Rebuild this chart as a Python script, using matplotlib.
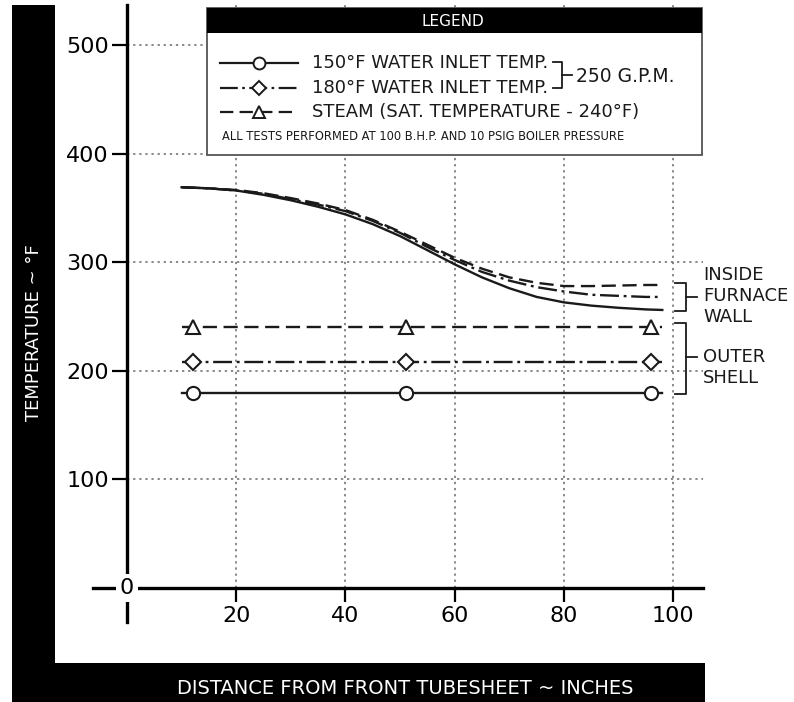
import matplotlib
matplotlib.use('Agg')
import matplotlib.pyplot as plt
from matplotlib.patches import Rectangle

# inside furnace wall temperature along the tube (deg F)
dist = [10, 15, 20, 25, 30, 35, 40, 45, 50, 55, 60, 65, 70, 75, 80, 85, 90, 95, 98]
wall_150 = [369, 368, 366, 362, 357, 351, 344, 335, 324, 311, 298, 286, 276, 268, 263, 260, 258, 256.5, 256]
wall_180 = [369, 368, 366, 363, 358, 353, 347, 338, 327, 314, 302, 291, 283, 277, 273, 270, 269, 268, 268]
wall_steam = [369, 368, 366.5, 363.5, 359, 354, 348, 339, 328, 316, 304, 294, 286, 281, 278, 278, 278.5, 279, 279]

# outer shell temperature (flat along the tube)
shell_span = [10, 98]
shell_marks = [12, 51, 96]
shell_150 = 180
shell_180 = 208
shell_steam = 240

x_ticks = [20, 40, 60, 80, 100]
y_ticks = [100, 200, 300, 400, 500]

legend_rows = ['150°F WATER INLET TEMP.',
               '180°F WATER INLET TEMP.',
               'STEAM (SAT. TEMPERATURE - 240°F)']
legend_note = 'ALL TESTS PERFORMED AT 100 B.H.P. AND 10 PSIG BOILER PRESSURE'

INK = '#1a1a1a'
GRID = '#6a6a6a'

styles = [
    dict(linestyle='-', marker='o', ms=9.5),
    dict(dashes=(8, 2, 1.2, 2), marker='D', ms=8),
    dict(dashes=(6, 2.8), marker='^', ms=10),
]


def draw_chart(ax):
    top = 536.8
    right = 105.45
    ax.set_xlim(-6.22, right)
    ax.set_ylim(-31.3, top)

    # dotted grid
    ax.vlines(x_ticks, 0, top, colors=GRID, linestyles=(0, (1.5, 2.5)), lw=1.1, zorder=1)
    ax.hlines(y_ticks, 0, right, colors=GRID, linestyles=(0, (1.5, 2.5)), lw=1.1, zorder=1)

    # inside furnace wall curves
    for wall, st in zip([wall_150, wall_180, wall_steam], styles):
        line_st = {k: v for k, v in st.items() if k not in ('marker', 'ms')}
        ax.plot(dist, wall, color=INK, lw=1.7, zorder=3, **line_st)

    # outer shell lines with markers
    for val, st in zip([shell_150, shell_180, shell_steam], styles):
        line_st = {k: v for k, v in st.items() if k not in ('marker', 'ms')}
        ax.plot(shell_span, [val, val], color=INK, lw=1.7, zorder=3, **line_st)
        ax.plot(shell_marks, [val] * len(shell_marks), ls='none', marker=st['marker'],
                ms=st['ms'], mfc='white', mec=INK, mew=1.5, zorder=4)

    # axes through the origin
    for side in ['top', 'right']:
        ax.spines[side].set_visible(False)
    ax.spines['left'].set_position(('data', 0))
    ax.spines['bottom'].set_position(('data', 0))
    ax.spines['left'].set_linewidth(2.4)
    ax.spines['bottom'].set_linewidth(2.4)
    ax.spines['left'].set_color('black')
    ax.spines['bottom'].set_color('black')

    ax.set_xticks(x_ticks)
    ax.set_yticks(y_ticks)
    ax.tick_params(axis='y', direction='out', length=11, width=1.6, labelsize=16, pad=2)
    ax.tick_params(axis='x', direction='out', length=10, width=1.6, labelsize=16, pad=3)

    ax.text(0, 0, '0', ha='center', va='center', fontsize=16,
            bbox=dict(fc='white', ec='none', pad=3), zorder=6)


def draw_frame(ov):
    # overlay in pixel coordinates
    ov.set_xlim(0, 794)
    ov.set_ylim(702, 0)
    ov.axis('off')

    ov.add_patch(Rectangle((12, 5), 43, 697, fc='black', ec='none'))
    ov.add_patch(Rectangle((12, 663), 693, 39, fc='black', ec='none'))
    ov.text(34, 333, 'TEMPERATURE ~ °F', rotation=90, ha='center', va='center',
            color='white', fontsize=13)
    ov.text(405, 688, 'DISTANCE FROM FRONT TUBESHEET ~ INCHES', ha='center', va='center',
            color='white', fontsize=14)

    # legend box
    ov.add_patch(Rectangle((207, 8), 495, 147, fc='white', ec='#555555', lw=1.3))
    ov.add_patch(Rectangle((207, 8), 495, 25, fc='black', ec='none'))
    ov.text(453, 21, 'LEGEND', ha='center', va='center', color='white', fontsize=11)

    rows_y = [63, 88, 112]
    for y, label, st in zip(rows_y, legend_rows, styles):
        line_st = {k: v for k, v in st.items() if k not in ('marker', 'ms')}
        ov.plot([220, 298], [y, y], color=INK, lw=1.6, **line_st)
        ov.plot([259], [y], ls='none', marker=st['marker'], ms=st['ms'] * 0.9,
                mfc='white', mec=INK, mew=1.4)
        ov.text(312, y, label, ha='left', va='center', fontsize=13, color=INK)
    ov.text(222, 137, legend_note, ha='left', va='center', fontsize=8.3, color=INK)

    # 250 GPM bracket
    ov.plot([553, 562, 562, 553], [62, 62, 88, 88], color=INK, lw=1.3)
    ov.plot([562, 572], [75, 75], color=INK, lw=1.3)
    ov.text(576, 77, '250 G.P.M.', ha='left', va='center', fontsize=13.5, color=INK)

    # right hand brackets
    ov.plot([675, 686, 686, 675], [283, 283, 311, 311], color=INK, lw=1.3)
    ov.plot([686, 697], [297, 297], color=INK, lw=1.3)
    for y, word in zip([275, 296, 317], ['INSIDE', 'FURNACE', 'WALL']):
        ov.text(703, y, word, ha='left', va='center', fontsize=13, color=INK)
    ov.plot([675, 686, 686, 675], [323, 323, 394, 394], color=INK, lw=1.3)
    ov.plot([686, 697], [357, 357], color=INK, lw=1.3)
    for y, word in zip([357, 378], ['OUTER', 'SHELL']):
        ov.text(703, y, word, ha='left', va='center', fontsize=13, color=INK)


def main():
    fig = plt.figure(figsize=(7.94, 7.02), dpi=100)
    ax = fig.add_axes([93 / 794, 1 - 622 / 702, 610 / 794, 617 / 702])
    ax.set_zorder(1)
    draw_chart(ax)

    ov = fig.add_axes([0, 0, 1, 1])
    ov.set_zorder(2)
    ov.patch.set_alpha(0)
    draw_frame(ov)

    fig.savefig('out.png', dpi=100)


if __name__ == "__main__":
    main()
